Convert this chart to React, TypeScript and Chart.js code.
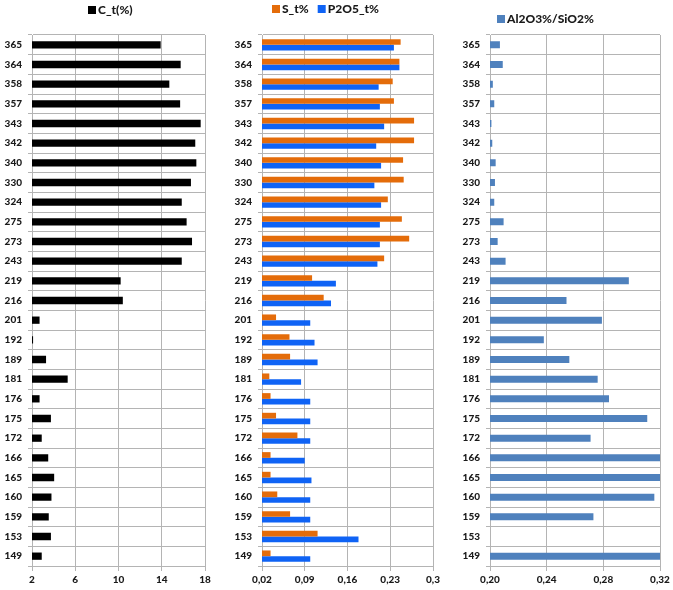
import React, { useEffect, useRef } from 'react';
import { Chart, registerables } from 'chart.js';

Chart.register(...registerables);

// ---- data ----
const categories = ['365', '364', '358', '357', '343', '342', '340', '330', '324', '275', '273', '243', '219', '216', '201', '192', '189', '181', '176', '175', '172', '166', '165', '160', '159', '153', '149'];

const cT = [13.9, 15.75, 14.7, 15.7, 17.6, 17.1, 17.2, 16.7, 15.85, 16.3, 16.8, 15.85, 10.2, 10.4, 2.7, 2.1, 3.3, 5.3, 2.7, 3.75, 2.9, 3.5, 4.05, 3.8, 3.55, 3.75, 2.9];
const sT = [0.247, 0.245, 0.234, 0.236, 0.269, 0.269, 0.251, 0.252, 0.226, 0.249, 0.261, 0.220, 0.102, 0.121, 0.043, 0.065, 0.066, 0.032, 0.034, 0.043, 0.078, 0.034, 0.034, 0.045, 0.066, 0.111, 0.034];
const p2o5T = [0.236, 0.245, 0.211, 0.213, 0.220, 0.207, 0.215, 0.204, 0.215, 0.213, 0.213, 0.209, 0.141, 0.133, 0.099, 0.106, 0.111, 0.084, 0.099, 0.099, 0.099, 0.090, 0.101, 0.099, 0.099, 0.178, 0.099];
const alSi = [0.207, 0.209, 0.202, 0.203, 0.201, 0.2016, 0.204, 0.2035, 0.203, 0.2096, 0.2054, 0.211, 0.298, 0.254, 0.279, 0.238, 0.256, 0.276, 0.284, 0.311, 0.271, 0.33, 0.33, 0.316, 0.273, null, 0.33];

const cTicks = [2, 6, 10, 14, 18];
const cTickLabels = ['2', '6', '10', '14', '18'];
const sTicks = [0.02, 0.09, 0.16, 0.23, 0.3];
const sTickLabels = ['0,02', '0,09', '0,16', '0,23', '0,3'];
const aTicks = [0.2, 0.24, 0.28, 0.32];
const aTickLabels = ['0,20', '0,24', '0,28', '0,32'];

const FONT = 'Lato';
const WEIGHT = '900';
const GRID = '#b4b4b4';
const TEXT = '#1a1a1a';

const placedLegend = {
  id: 'placedLegend',
  afterDraw(chart: any, _args: any, opts: any) {
    if (!opts || opts.x === undefined) return;
    const ctx = chart.ctx;
    ctx.save();
    ctx.font = `${WEIGHT} ${opts.size}px ${FONT}`;
    ctx.textBaseline = 'middle';
    ctx.textAlign = 'left';
    let x = opts.x;
    chart.data.datasets.forEach((ds: any) => {
      ctx.fillStyle = ds.backgroundColor;
      ctx.fillRect(x, opts.y - opts.box / 2, opts.box, opts.box);
      x += opts.box + 2;
      ctx.fillStyle = TEXT;
      ctx.fillText(ds.label, x, opts.y);
      x += ctx.measureText(ds.label).width + opts.gap;
    });
    ctx.restore();
  },
};

type PanelProps = {
  left: number;
  width: number;
  yWidth: number;
  padRight: number;
  datasets: any[];
  min: number;
  max: number;
  ticks: number[];
  tickLabels: string[];
  barPercentage: number;
  categoryPercentage: number;
  legend: { x: number; y: number; size: number; box: number; gap: number };
};

function Panel(p: PanelProps) {
  const ref = useRef<HTMLCanvasElement | null>(null);
  useEffect(() => {
    if (!ref.current) return;
    const chart = new Chart(ref.current, {
      type: 'bar',
      data: {
        labels: categories,
        datasets: p.datasets.map((d) => ({
          ...d,
          borderWidth: 0,
          barPercentage: p.barPercentage,
          categoryPercentage: p.categoryPercentage,
        })),
      },
      options: {
        indexAxis: 'y',
        responsive: false,
        animation: false,
        devicePixelRatio: 1,
        layout: { padding: { top: 35, right: p.padRight, bottom: 0, left: 0 } },
        plugins: {
          legend: { display: false },
          tooltip: { enabled: false },
          placedLegend: p.legend,
        } as any,
        scales: {
          x: {
            type: 'linear',
            min: p.min,
            max: p.max,
            afterBuildTicks: (scale: any) => {
              scale.ticks = p.ticks.map((v) => ({ value: v }));
            },
            afterFit: (scale: any) => {
              scale.height = 24;
            },
            grid: { color: GRID, tickLength: 5, lineWidth: 1 },
            border: { color: GRID },
            ticks: {
              padding: 3,
              color: TEXT,
              font: { family: FONT, size: 10, weight: WEIGHT },
              callback: (_v: any, i: number) => p.tickLabels[i],
              maxRotation: 0,
              autoSkip: false,
            },
          },
          y: {
            type: 'category',
            afterFit: (scale: any) => {
              scale.width = p.yWidth;
            },
            grid: { color: GRID, tickLength: 4, offset: true, lineWidth: 1 },
            border: { color: GRID },
            ticks: {
              padding: 6,
              color: TEXT,
              font: { family: FONT, size: 10, weight: WEIGHT },
              autoSkip: false,
            },
          },
        },
      } as any,
      plugins: [placedLegend],
    });
    return () => chart.destroy();
  }, []);
  return (
    <canvas
      ref={ref}
      width={p.width}
      height={590}
      style={{ position: 'absolute', left: p.left, top: 0, width: p.width, height: 590 }}
    />
  );
}

export default function App() {
  return (
    <div style={{ position: 'absolute', left: 0, top: 0, width: 673, height: 590, background: '#fff', overflow: 'hidden' }}>
      <Panel
        left={0}
        width={222}
        yWidth={32}
        padRight={17}
        datasets={[{ label: 'C_t(%)', data: cT, backgroundColor: '#000000' }]}
        min={2}
        max={18}
        ticks={cTicks}
        tickLabels={cTickLabels}
        barPercentage={0.37}
        categoryPercentage={1}
        legend={{ x: 88, y: 10, size: 12, box: 8, gap: 10 }}
      />
      <Panel
        left={222}
        width={225}
        yWidth={40}
        padRight={14}
        datasets={[
          { label: 'S_t%', data: sT, backgroundColor: '#E46C0A' },
          { label: 'P2O5_t%', data: p2o5T, backgroundColor: '#0F63F5' },
        ]}
        min={0.02}
        max={0.3}
        ticks={sTicks}
        tickLabels={sTickLabels}
        barPercentage={1}
        categoryPercentage={0.58}
        legend={{ x: 50, y: 9, size: 12, box: 8, gap: 9 }}
      />
      <Panel
        left={447}
        width={226}
        yWidth={43}
        padRight={13}
        datasets={[{ label: 'Al2O3%/SiO2%', data: alSi, backgroundColor: '#4F81BD' }]}
        min={0.2}
        max={0.32}
        ticks={aTicks}
        tickLabels={aTickLabels}
        barPercentage={0.36}
        categoryPercentage={1}
        legend={{ x: 50, y: 19, size: 12, box: 8, gap: 10 }}
      />
    </div>
  );
}
